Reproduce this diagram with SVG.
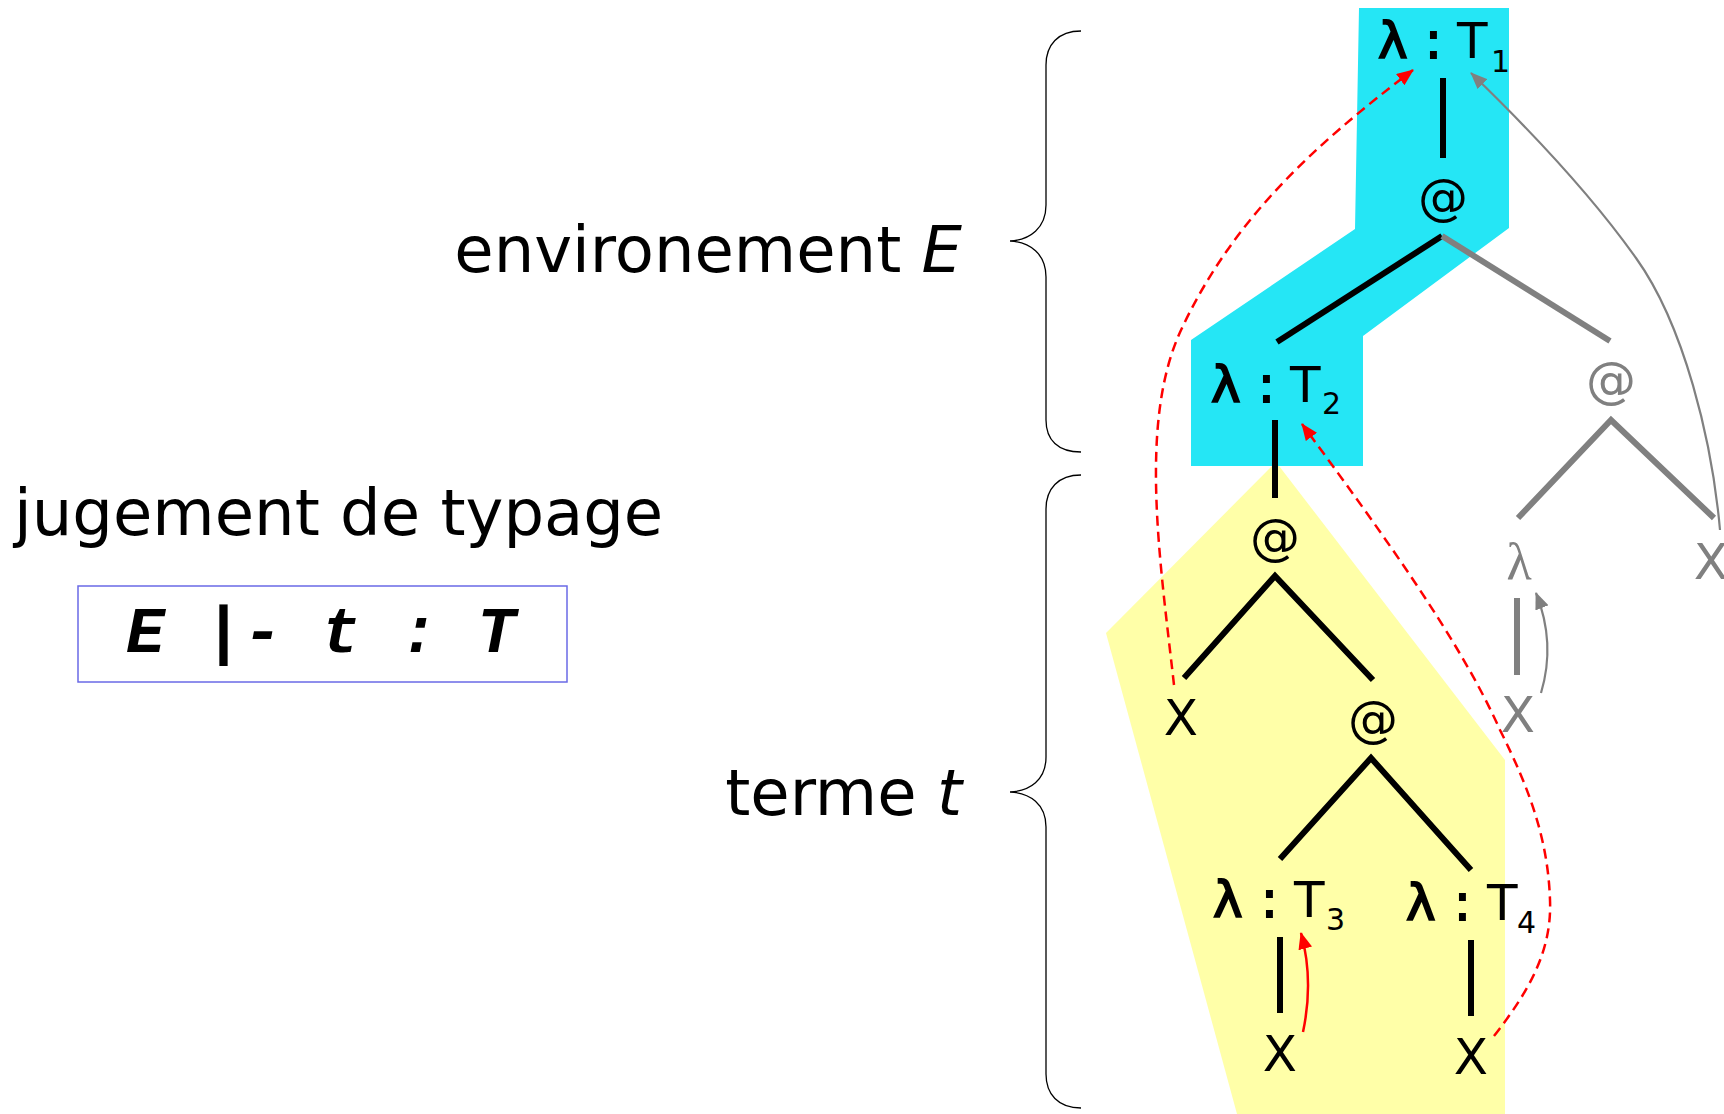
<svg xmlns="http://www.w3.org/2000/svg" width="1724" height="1114" viewBox="0 0 1724 1114">
<defs>
<style>
.lbl{font-family:"DejaVu Sans",Verdana,sans-serif;font-size:50px;fill:#000}
.b{stroke:#000;stroke-width:1.8}
.sub{font-size:30px}
.gr{fill:#808080}
.big{font-family:"DejaVu Sans",Verdana,sans-serif;font-size:64px;fill:#000}
.mono{font-family:"Liberation Mono","Courier New",monospace;font-size:65px;font-weight:bold;font-style:italic;fill:#000}
.edge{stroke:#000;stroke-width:6;fill:none;stroke-linejoin:miter;stroke-miterlimit:10}
.gedge{stroke:#808080;stroke-width:6;fill:none;stroke-linejoin:miter;stroke-miterlimit:10}
.brace{stroke:#000;stroke-width:1.3;fill:none}
.rdash{stroke:#FF0000;stroke-width:2.5;fill:none;stroke-dasharray:10 6}
.rsolid{stroke:#FF0000;stroke-width:2.5;fill:none}
.garc{stroke:#808080;stroke-width:2.2;fill:none}
</style>
<marker id="ahR" markerUnits="userSpaceOnUse" markerWidth="17" markerHeight="14" refX="16" refY="7" orient="auto">
<path d="M0,0 L17,7 L0,14 z" fill="#FF0000"/>
</marker>
<marker id="ahG" markerUnits="userSpaceOnUse" markerWidth="17" markerHeight="14" refX="16" refY="7" orient="auto">
<path d="M0,0 L17,7 L0,14 z" fill="#808080"/>
</marker>
</defs>
<rect width="1724" height="1114" fill="#FFFFFF"/>

<g id="zone-terme">
<polygon points="1276,462 1505,760 1505,1114 1237,1114 1106,633" fill="#FFFFA8"/>
</g>
<g id="zone-env">
<polygon points="1359,8 1509,8 1509,228 1363,336 1363,466 1191,466 1191,340 1355,229" fill="#25E6F5"/>
</g>

<g id="braces">
<path class="brace" d="M1081,31 C1058,31 1046,45 1046,65 L1046,205 C1046,228 1030,240 1010,241 C1030,242 1046,254 1046,277 L1046,420 C1046,440 1058,452 1081,452"/>
<path class="brace" d="M1081,475 C1058,475 1046,489 1046,509 L1046,757 C1046,780 1030,791 1010,792 C1030,793 1046,804 1046,827 L1046,1074 C1046,1094 1058,1108 1081,1108"/>
</g>

<g id="label-env"><text class="big" x="962" y="272" text-anchor="end">environement <tspan font-style="italic">E</tspan></text></g>
<g id="label-jugement"><text class="big" x="14" y="535">jugement de typage</text></g>
<g id="label-terme"><text class="big" x="962" y="815" text-anchor="end">terme <tspan font-style="italic">t</tspan></text></g>

<g id="judgement">
<rect x="78" y="586" width="489" height="96" fill="#FFFFFF" stroke="#6A6AE6" stroke-width="1.5"/>
<text class="mono" x="126" y="652">E <tspan font-style="normal">|</tspan>- t : T</text>
</g>

<g id="connectors">
<line class="edge" x1="1443" y1="78" x2="1443" y2="158"/>
<line class="edge" x1="1442" y1="236" x2="1277" y2="342"/>
<line class="gedge" x1="1442" y1="236" x2="1610" y2="341"/>
<line class="edge" x1="1275" y1="420" x2="1275" y2="498"/>
<polyline class="gedge" points="1518,518 1611,420 1714,518"/>
<line class="gedge" x1="1517" y1="598" x2="1517" y2="675"/>
<polyline class="edge" points="1184,678 1275,576 1373,680"/>
<polyline class="edge" points="1280,859 1371,758 1471,870"/>
<line class="edge" x1="1280" y1="937" x2="1280" y2="1013"/>
<line class="edge" x1="1471" y1="940" x2="1471" y2="1016"/>
<path class="garc" d="M1720,530 C1712,440 1684,325 1636,258 C1592,196 1530,130 1471,73" marker-end="url(#ahG)"/>
<path class="garc" d="M1541,693 Q1556,643 1536,593" marker-end="url(#ahG)"/>
<path class="rdash" d="M1174,685 C1160,560 1138,420 1182,328 C1232,222 1310,148 1413,70" marker-end="url(#ahR)"/>
<path class="rdash" d="M1494,1036 C1530,990 1552,950 1550,900 C1548,840 1530,790 1500,730 C1460,640 1380,530 1302,424" marker-end="url(#ahR)"/>
<path class="rsolid" d="M1303,1032 Q1314,980 1301,933" marker-end="url(#ahR)"/>
</g>

<g id="node-lam1"><text class="lbl"><tspan class="b" x="1378" y="58">λ</tspan><tspan class="b" x="1425" y="58">:</tspan><tspan x="1457" y="58">T</tspan><tspan class="sub" x="1491" y="72">1</tspan></text></g>
<g id="node-app1"><text class="lbl" x="1443" y="214" text-anchor="middle">@</text></g>
<g id="node-lam2"><text class="lbl"><tspan class="b" x="1211" y="402">λ</tspan><tspan class="b" x="1258" y="402">:</tspan><tspan x="1290" y="402">T</tspan><tspan class="sub" x="1322" y="414">2</tspan></text></g>
<g id="node-app-gray"><text class="lbl gr" x="1611" y="397" text-anchor="middle">@</text></g>
<g id="node-app2"><text class="lbl" x="1275" y="554" text-anchor="middle">@</text></g>
<g id="node-x1"><text class="lbl" x="1181" y="735" text-anchor="middle">X</text></g>
<g id="node-app3"><text class="lbl" x="1373" y="736" text-anchor="middle">@</text></g>
<g id="node-lam-gray"><text class="gr" x="1519" y="579" text-anchor="middle" font-family="Liberation Serif, serif" font-size="52">λ</text></g>
<g id="node-x-gray"><text class="lbl gr" x="1518" y="732" text-anchor="middle">X</text></g>
<g id="node-x-gray2"><text class="lbl gr" x="1711" y="579" text-anchor="middle">X</text></g>
<g id="node-lam3"><text class="lbl"><tspan class="b" x="1213" y="917">λ</tspan><tspan class="b" x="1261" y="917">:</tspan><tspan x="1294" y="917">T</tspan><tspan class="sub" x="1326" y="930">3</tspan></text></g>
<g id="node-lam4"><text class="lbl"><tspan class="b" x="1406" y="920">λ</tspan><tspan class="b" x="1454" y="920">:</tspan><tspan x="1487" y="920">T</tspan><tspan class="sub" x="1517" y="933">4</tspan></text></g>
<g id="node-x3"><text class="lbl" x="1280" y="1071" text-anchor="middle">X</text></g>
<g id="node-x4"><text class="lbl" x="1471" y="1074" text-anchor="middle">X</text></g>
</svg>
